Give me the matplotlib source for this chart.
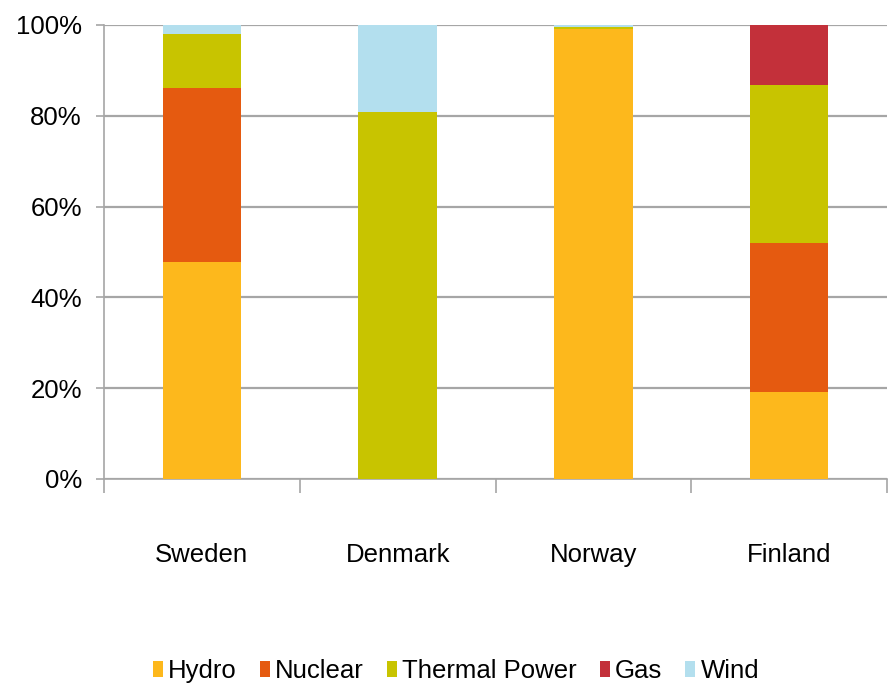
"""Nordic electricity generation mix, stacked 100% bars."""

import matplotlib

matplotlib.use("Agg")
import matplotlib.pyplot as plt
import numpy as np
from matplotlib.patches import Patch
from matplotlib.ticker import FixedLocator, PercentFormatter

countries = ["Sweden", "Denmark", "Norway", "Finland"]
sources = ["Hydro", "Nuclear", "Thermal Power", "Gas", "Wind"]
hydro = [47.8, 0.0, 99.2, 19.2]
nuclear = [38.3, 0.0, 0.0, 32.8]
thermal = [11.9, 80.8, 0.4, 34.8]
gas = [0.0, 0.0, 0.0, 13.2]
wind = [2.0, 19.2, 0.4, 0.0]
colors = ["#FDB81C", "#E55A10", "#C8C400", "#C3303A", "#B3DFEE"]
yticks = [0, 20, 40, 60, 80, 100]

plt.rcParams["font.family"] = ["Liberation Sans", "DejaVu Sans"]
fs = 18.5

fig = plt.figure(figsize=(8.91, 6.94), dpi=100)
ax = fig.add_axes([104 / 891, 1 - 479 / 694, 783 / 891, 454 / 694])

x = np.arange(len(countries))
bottom = np.zeros(len(countries))
for values, color in zip([hydro, nuclear, thermal, gas, wind], colors):
    ax.bar(x, values, width=0.4, bottom=bottom, color=color, zorder=3, linewidth=0)
    bottom += np.array(values)

ax.set_xlim(-0.5, len(countries) - 0.5)
ax.set_ylim(0, 100)
ax.set_yticks(yticks)
ax.yaxis.set_major_formatter(PercentFormatter(decimals=0))
ax.grid(axis="y", color="#A6A6A6", linewidth=1.6, zorder=0)

ax.set_xticks(x)
ax.set_xticklabels(countries)
ax.xaxis.set_minor_locator(FixedLocator(np.arange(len(countries) + 1) - 0.5))
ax.tick_params(axis="x", which="major", length=0, pad=46, labelsize=fs)
ax.tick_params(axis="x", which="minor", length=10, width=1.2, color="#A6A6A6")
ax.tick_params(axis="y", length=6, width=1.2, color="#A6A6A6", pad=10, labelsize=fs)

for side in ["top", "right"]:
    ax.spines[side].set_visible(False)
for side in ["left", "bottom"]:
    ax.spines[side].set_color("#A6A6A6")
    ax.spines[side].set_linewidth(1.2)

handles = [Patch(facecolor=c, edgecolor="none") for c in colors]
fig.legend(
    handles,
    sources,
    loc="center",
    bbox_to_anchor=(456 / 891, 1 - 671 / 694),
    ncol=5,
    frameon=False,
    fontsize=fs,
    handlelength=0.39,
    handleheight=0.55,
    handletextpad=0.2,
    columnspacing=0.9,
)

fig.savefig("out.png", dpi=100)
plt.close(fig)
